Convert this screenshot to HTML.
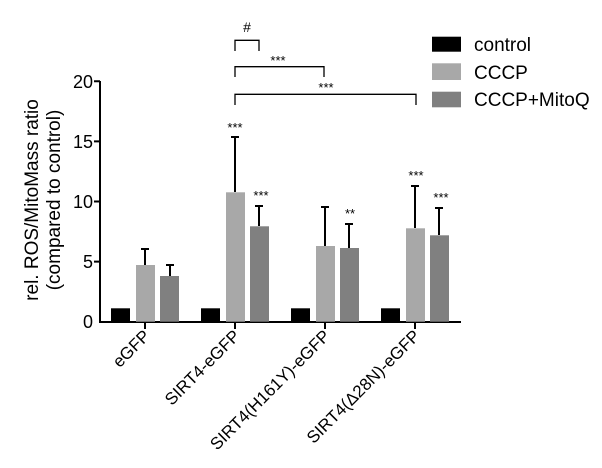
<!DOCTYPE html>
<html><head><style>body{margin:0;background:#fff}svg{display:block}</style></head><body>
<svg width="602" height="468" xmlns="http://www.w3.org/2000/svg" font-family="Liberation Sans, Arial, sans-serif">
<g fill="#000" font-size="18" text-anchor="end">
<text x="93" y="88">20</text><text x="93" y="148">15</text><text x="93" y="208">10</text><text x="93" y="268">5</text><text x="93" y="328">0</text>
</g>
<g stroke="#000" stroke-width="2" fill="none">
<path d="M100,81V322H461"/>
<path d="M94,81.3H100M94,141.4H100M94,201.5H100M94,261.6H100"/>
<path d="M145,322v7M235,322v7M325,322v7M415,322v7"/>
</g>
<g font-size="19" text-anchor="middle" fill="#000">
<text transform="translate(38,200) rotate(-90)">rel. ROS/MitoMass ratio</text>
<text transform="translate(60,200) rotate(-90)">(compared to control)</text>
</g>
<g>
<rect x="111" y="308.3" width="19" height="13.4" fill="#000"/>
<rect x="136" y="265" width="19" height="56.7" fill="#a8a8a8"/>
<rect x="160" y="276" width="19" height="45.7" fill="#808080"/>
<rect x="201" y="308.3" width="19" height="13.4" fill="#000"/>
<rect x="226" y="192.3" width="19" height="129.4" fill="#a8a8a8"/>
<rect x="250" y="226.3" width="19" height="95.4" fill="#808080"/>
<rect x="291" y="308.3" width="19" height="13.4" fill="#000"/>
<rect x="316" y="246" width="19" height="75.7" fill="#a8a8a8"/>
<rect x="340" y="248" width="19" height="73.7" fill="#808080"/>
<rect x="381" y="308.3" width="19" height="13.4" fill="#000"/>
<rect x="406" y="228.3" width="19" height="93.4" fill="#a8a8a8"/>
<rect x="430" y="235.3" width="19" height="86.4" fill="#808080"/>
</g>
<g stroke="#000" stroke-width="2" fill="none">
<path d="M145,265V249M141,249h8"/>
<path d="M170,276V265M166,265h8"/>
<path d="M235,192V137M231,137h8"/>
<path d="M259,226V206M255,206h8"/>
<path d="M325,246V207M321,207h8"/>
<path d="M349,248V224M345,224h8"/>
<path d="M415,228V186M411,186h8"/>
<path d="M439,235V208M435,208h8"/>
</g>
<g stroke="#000" stroke-width="1.3" fill="none">
<path d="M235,51V40.3H259V51"/>
<path d="M235,77V66.7H324V77"/>
<path d="M235,105V94.3H416V105"/>
</g>
<g font-size="13" text-anchor="middle" fill="#000">
<text x="247" y="32" font-size="14">#</text>
<text x="278" y="65">***</text>
<text x="326" y="92">***</text>
<text x="235" y="132">***</text>
<text x="261" y="200">***</text>
<text x="350" y="218">**</text>
<text x="416" y="180">***</text>
<text x="441" y="202">***</text>
</g>
<rect x="432" y="36.7" width="29" height="15" fill="#000"/>
<rect x="432" y="63.3" width="29" height="16.7" fill="#a8a8a8"/>
<rect x="432" y="91.7" width="29" height="15.6" fill="#808080"/>
<g font-size="19" fill="#000">
<text x="474" y="51">control</text>
<text x="474" y="79">CCCP</text>
<text x="474" y="106">CCCP+MitoQ</text>
</g>
<g font-size="17" text-anchor="end" fill="#000">
<text transform="translate(151,337) rotate(-45)">eGFP</text>
<text transform="translate(241,337) rotate(-45)">SIRT4-eGFP</text>
<text transform="translate(331,337) rotate(-45)">SIRT4(H161Y)-eGFP</text>
<text transform="translate(421,337) rotate(-45)">SIRT4(Δ28N)-eGFP</text>
</g>
</svg>
</body></html>
